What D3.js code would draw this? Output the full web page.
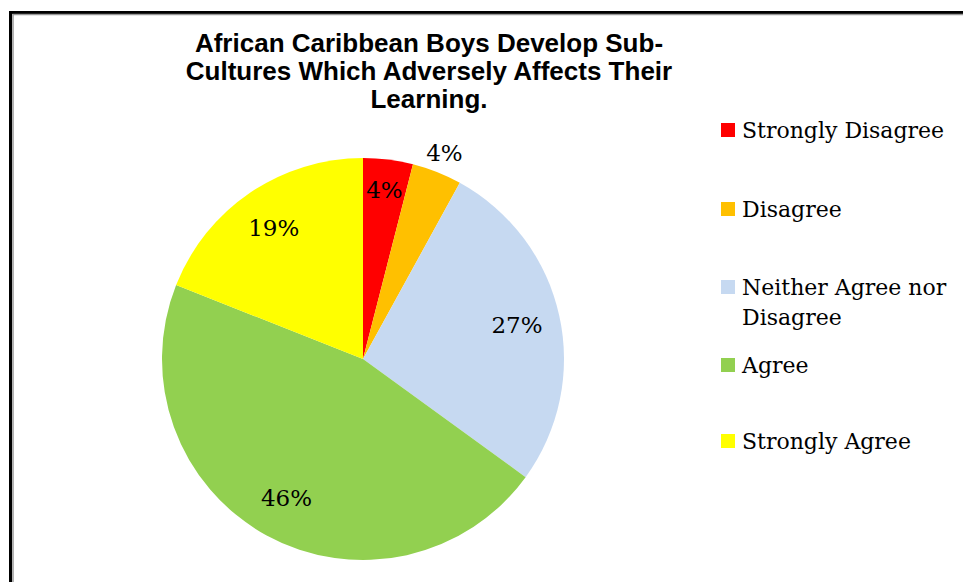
<!DOCTYPE html>
<html>
<head>
<meta charset="utf-8">
<style>
  body { margin: 0; background: #fff; }
  svg { display: block; }
  .title { font: bold 26px "Liberation Sans", Arial, sans-serif; }
  .lbl { font: 23px "DejaVu Serif", serif; }
  .legend text { font: 22px "DejaVu Serif", serif; }
</style>
</head>
<body>
<svg width="963" height="582"></svg>
<script src="https://cdn.jsdelivr.net/npm/d3@7"></script>
<script>
var categories = ["Strongly Disagree", "Disagree", "Neither Agree nor Disagree", "Agree", "Strongly Agree"];
var values = [4, 4, 27, 46, 19];
var colors = ["#ff0000", "#ffc000", "#c6d9f1", "#92d050", "#ffff00"];
var titleLines = ["African Caribbean Boys Develop Sub-", "Cultures Which Adversely Affects Their", "Learning."];

var svg = d3.select("svg");

// frame
svg.append("path")
  .attr("d", "M10.5,582 V12.5 H963")
  .attr("fill", "none").attr("stroke", "#000").attr("stroke-width", 3);
svg.append("path")
  .attr("d", "M13,582 V14.5 H963")
  .attr("fill", "none").attr("stroke", "#999").attr("stroke-width", 1.5);

// title
svg.append("text").attr("class", "title")
  .attr("text-anchor", "middle")
  .selectAll("tspan").data(titleLines).enter().append("tspan")
  .attr("x", 429)
  .attr("y", function(d, i) { return 52 + i * 28; })
  .text(function(d) { return d; });

var cx = 363, cy = 359, r = 201;
var data = categories.map(function(c, i) { return {name: c, value: values[i], color: colors[i]}; });
var pie = d3.pie().sort(null).value(function(d) { return d.value; });
var arc = d3.arc().innerRadius(0).outerRadius(r);
var arcs = pie(data);

var g = svg.append("g").attr("transform", "translate(" + cx + "," + cy + ")");
g.selectAll("path").data(arcs).enter().append("path")
  .attr("d", arc)
  .attr("fill", function(d) { return d.data.color; });

// label placement: radius factor per slice (orange one sits outside)
var labelR = [0.85, 1.1, 0.785, 0.79, 0.79];
g.selectAll("text.lbl").data(arcs).enter().append("text")
  .attr("class", "lbl")
  .attr("text-anchor", "middle")
  .attr("dy", "0.35em")
  .attr("transform", function(d, i) {
    var a = (d.startAngle + d.endAngle) / 2;
    var rr = r * labelR[i];
    return "translate(" + (Math.sin(a) * rr) + "," + (-Math.cos(a) * rr) + ")";
  })
  .text(function(d) { return d.data.value + "%"; });

// legend
var legendY = [130, 209, 287, 365, 441];
var lg = svg.append("g").attr("class", "legend");
var item = lg.selectAll("g").data(data).enter().append("g")
  .attr("transform", function(d, i) { return "translate(721," + legendY[i] + ")"; });
item.append("rect")
  .attr("x", 0).attr("y", -7).attr("width", 14).attr("height", 14)
  .attr("fill", function(d) { return d.color; });
item.append("text")
  .attr("x", 21)
  .attr("y", 8)
  .each(function(d) {
    var t = d3.select(this);
    var lines = d.name === "Neither Agree nor Disagree" ? ["Neither Agree nor", "Disagree"] : [d.name];
    lines.forEach(function(l, j) {
      t.append("tspan").attr("x", 21).attr("dy", j ? 30 : 0).text(l);
    });
  });
</script>
</body>
</html>
